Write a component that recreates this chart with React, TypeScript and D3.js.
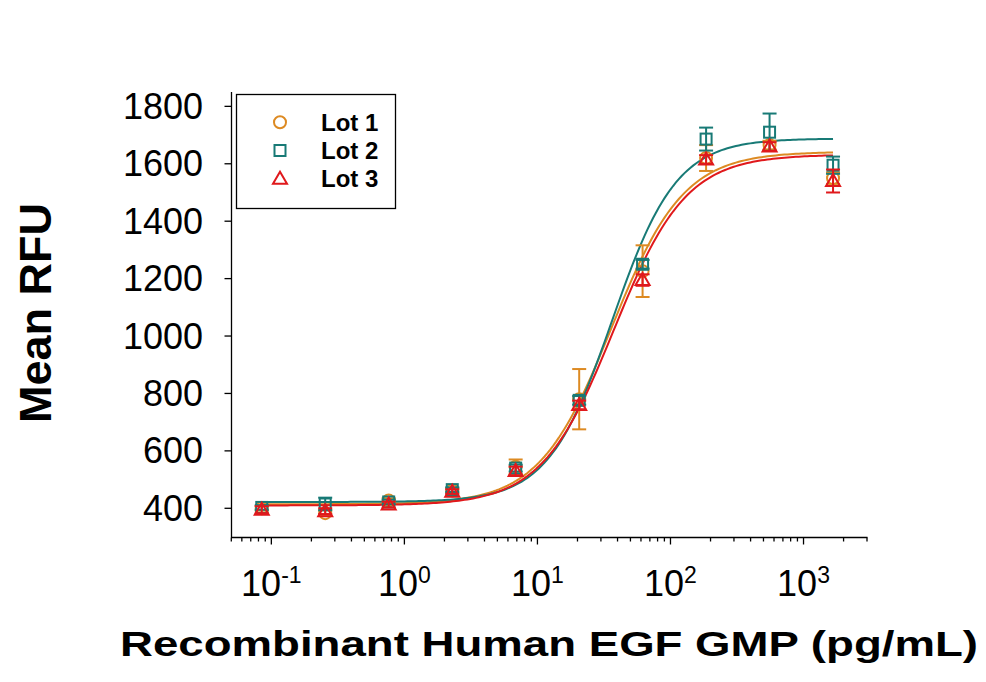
import React from "react";
import * as d3 from "d3";

const concentrations = [0.0847, 0.254, 0.762, 2.29, 6.86, 20.6, 61.7, 185.2, 555.6, 1666.7];
const lot1Values = [400, 383, 427, 462, 545, 780, 1226, 1620, 1665, 1550];
const lot1Errors = [8, 10, 8, 8, 25, 105, 90, 45, 15, 20];
const lot2Values = [403, 415, 422, 465, 540, 776, 1250, 1686, 1710, 1595];
const lot2Errors = [8, 22, 8, 8, 12, 15, 15, 40, 65, 30];
const lot3Values = [395, 390, 413, 458, 530, 760, 1195, 1615, 1660, 1540];
const lot3Errors = [12, 10, 10, 8, 15, 15, 20, 15, 15, 40];

// 4-parameter logistic fit parameters per lot: [bottom, top, EC50, hill]
const lot1Fit = [414, 1642, 36, 1.6];
const lot2Fit = [422, 1688, 36.5, 1.8];
const lot3Fit = [410, 1632, 37.5, 1.6];

const lotNames = ["Lot 1", "Lot 2", "Lot 3"];
const lotColors = ["#DD8A22", "#187A76", "#E0191C"];
const lotShapes = ["circle", "square", "triangle"];

const yTicks = [400, 600, 800, 1000, 1200, 1400, 1600, 1800];
const xMajorTicks = [0.1, 1, 10, 100, 1000];
const xExponents = ["-1", "0", "1", "2", "3"];

const FONT = "'Liberation Sans', Arial, Helvetica, sans-serif";

const x = d3.scaleLog().domain([0.05, 3000]).range([231.3, 867]);
const y = d3.scaleLinear().domain([300, 1850]).range([537, 92]);

function minorTicks(): number[] {
  const out: number[] = [];
  const bases = [0.01, 0.1, 1, 10, 100, 1000];
  for (const b of bases) {
    for (let k = 2; k <= 9; k++) {
      const v = b * k;
      if (v >= 0.05 && v <= 3000) out.push(v);
    }
  }
  return out;
}

function Marker({ shape, cx, cy, color }: { shape: string; cx: number; cy: number; color: string }) {
  if (shape === "circle") {
    return <circle cx={cx} cy={cy} r={6} fill="none" stroke={color} strokeWidth={2} />;
  }
  if (shape === "square") {
    return <rect x={cx - 5.5} y={cy - 5.5} width={11} height={11} fill="none" stroke={color} strokeWidth={2} />;
  }
  const pts = `${cx},${cy - 7} ${cx + 7},${cy + 5} ${cx - 7},${cy + 5}`;
  return <polygon points={pts} fill="none" stroke={color} strokeWidth={2} />;
}

export default function App() {
  const lots = [
    { values: lot1Values, errors: lot1Errors, fit: lot1Fit },
    { values: lot2Values, errors: lot2Errors, fit: lot2Fit },
    { values: lot3Values, errors: lot3Errors, fit: lot3Fit },
  ];

  const xMin = concentrations[0];
  const xMax = concentrations[concentrations.length - 1];
  const samples = d3.range(0, 201).map((i) => Math.pow(10, Math.log10(xMin) + (i / 200) * (Math.log10(xMax) - Math.log10(xMin))));

  const line = d3
    .line<[number, number]>()
    .x((d) => x(d[0]))
    .y((d) => y(d[1]));

  const minors = minorTicks();

  return (
    <svg
      width={986}
      height={682}
      style={{ position: "absolute", left: 0, top: 0, background: "#fff" }}
      fontFamily={FONT}
    >
      <rect x={0} y={0} width={986} height={682} fill="#fff" />

      {/* Curves */}
      {lots.map((lot, i) => {
        const [bottom, top, ec50, hill] = lot.fit;
        const pts: [number, number][] = samples.map((c) => [c, bottom + (top - bottom) / (1 + Math.pow(ec50 / c, hill))]);
        return <path key={"c" + i} d={line(pts) || ""} fill="none" stroke={lotColors[i]} strokeWidth={2} />;
      })}

      {/* Error bars and markers */}
      {lots.map((lot, i) => (
        <g key={"p" + i}>
          {concentrations.map((c, j) => {
            const cx = x(c);
            const v = lot.values[j];
            const e = lot.errors[j];
            const y1 = y(v + e);
            const y2 = y(v - e);
            return (
              <g key={j} stroke={lotColors[i]} strokeWidth={2}>
                <line x1={cx} x2={cx} y1={y1} y2={y2} />
                <line x1={cx - 7} x2={cx + 7} y1={y1} y2={y1} />
                <line x1={cx - 7} x2={cx + 7} y1={y2} y2={y2} />
              </g>
            );
          })}
          {concentrations.map((c, j) => (
            <Marker key={"m" + j} shape={lotShapes[i]} cx={x(c)} cy={y(lot.values[j])} color={lotColors[i]} />
          ))}
        </g>
      ))}

      {/* Axes */}
      <line x1={231.5} x2={231.5} y1={92} y2={537.5} stroke="#000" strokeWidth={1.3} />
      <line x1={231} x2={867.5} y1={537.5} y2={537.5} stroke="#000" strokeWidth={1.3} />

      {yTicks.map((t) => (
        <g key={"yt" + t}>
          <line x1={224.5} x2={231.5} y1={y(t)} y2={y(t)} stroke="#000" strokeWidth={1.3} />
          <text x={203} y={y(t) + 12.5} textAnchor="end" fontSize={36} fill="#000">
            {t}
          </text>
        </g>
      ))}

      {minors.map((t) => (
        <line key={"mx" + t} x1={x(t)} x2={x(t)} y1={537.5} y2={541.5} stroke="#000" strokeWidth={1.3} />
      ))}
      {xMajorTicks.map((t, i) => (
        <g key={"xt" + t}>
          <line x1={x(t)} x2={x(t)} y1={537.5} y2={544.5} stroke="#000" strokeWidth={1.3} />
          <text x={x(t)} y={596} textAnchor="middle" fontSize={36} fill="#000">
            10
            <tspan fontSize={23} dy={-13}>
              {xExponents[i]}
            </tspan>
          </text>
        </g>
      ))}

      {/* Axis titles */}
      <text
        x={120}
        y={656}
        fontSize={34.5}
        fontWeight="bold"
        textLength={858}
        lengthAdjust="spacingAndGlyphs"
        fill="#000"
      >
        Recombinant Human EGF GMP (pg/mL)
      </text>
      <text
        transform="translate(50.5,313) rotate(-90)"
        textAnchor="middle"
        fontSize={45}
        fontWeight="bold"
        fill="#000"
      >
        Mean RFU
      </text>

      {/* Legend */}
      <rect x={236.5} y={94.5} width={159} height={114} fill="#fff" stroke="#000" strokeWidth={1.3} />
      {lotNames.map((name, i) => {
        const base = 130.7 + i * 28.3;
        return (
          <g key={"lg" + i}>
            <Marker shape={lotShapes[i]} cx={280} cy={base - 8.5} color={lotColors[i]} />
            <text x={321} y={base} fontSize={24} fontWeight="bold" fill="#000">
              {name}
            </text>
          </g>
        );
      })}
    </svg>
  );
}
